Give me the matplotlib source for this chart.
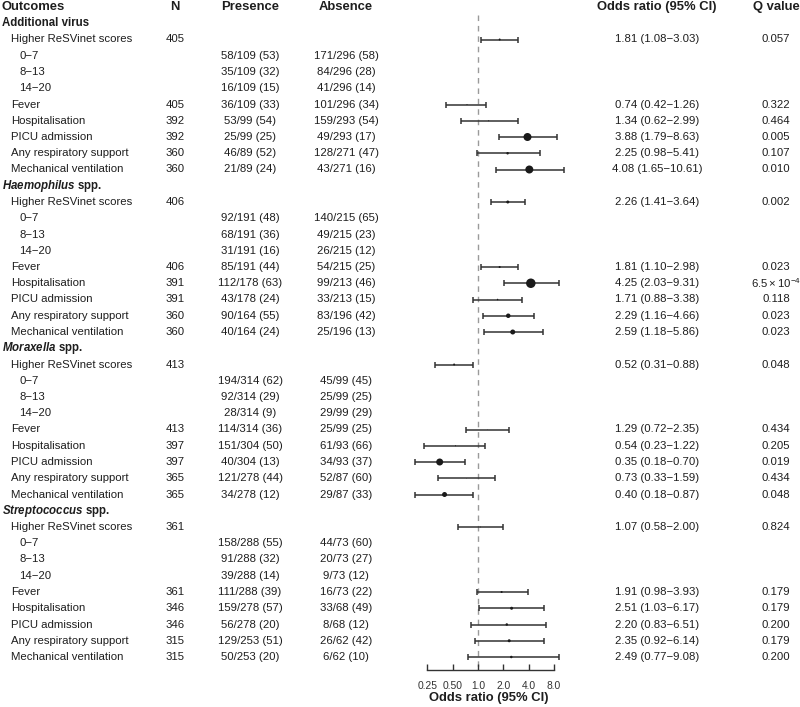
import numpy as np
import matplotlib.pyplot as plt

plt.rcParams['font.family'] = ['Liberation Sans', 'DejaVu Sans']
plt.rcParams['mathtext.fontset'] = 'custom'
plt.rcParams['mathtext.rm'] = 'Liberation Sans'
plt.rcParams['mathtext.it'] = 'Liberation Sans:italic:bold'
plt.rcParams['mathtext.bf'] = 'Liberation Sans:bold'

# ---- data ----
groups = ["Additional virus", "Haemophilus", "Moraxella", "Streptococcus"]
group_italic = [False, True, True, True]
outcomes = ["Higher ReSVinet scores", "Fever", "Hospitalisation", "PICU admission",
            "Any respiratory support", "Mechanical ventilation"]
score_bands = ["0−7", "8−13", "14−20"]

n_total = [
    [405, 405, 392, 392, 360, 360],
    [406, 406, 391, 391, 360, 360],
    [413, 413, 397, 397, 365, 365],
    [361, 361, 346, 346, 315, 315],
]

band_presence = [
    ["58/109 (53)", "35/109 (32)", "16/109 (15)"],
    ["92/191 (48)", "68/191 (36)", "31/191 (16)"],
    ["194/314 (62)", "92/314 (29)", "28/314 (9)"],
    ["158/288 (55)", "91/288 (32)", "39/288 (14)"],
]
band_absence = [
    ["171/296 (58)", "84/296 (28)", "41/296 (14)"],
    ["140/215 (65)", "49/215 (23)", "26/215 (12)"],
    ["45/99 (45)", "25/99 (25)", "29/99 (29)"],
    ["44/73 (60)", "20/73 (27)", "9/73 (12)"],
]
outcome_presence = [
    ["36/109 (33)", "53/99 (54)", "25/99 (25)", "46/89 (52)", "21/89 (24)"],
    ["85/191 (44)", "112/178 (63)", "43/178 (24)", "90/164 (55)", "40/164 (24)"],
    ["114/314 (36)", "151/304 (50)", "40/304 (13)", "121/278 (44)", "34/278 (12)"],
    ["111/288 (39)", "159/278 (57)", "56/278 (20)", "129/253 (51)", "50/253 (20)"],
]
outcome_absence = [
    ["101/296 (34)", "159/293 (54)", "49/293 (17)", "128/271 (47)", "43/271 (16)"],
    ["54/215 (25)", "99/213 (46)", "33/213 (15)", "83/196 (42)", "25/196 (13)"],
    ["25/99 (25)", "61/93 (66)", "34/93 (37)", "52/87 (60)", "29/87 (33)"],
    ["16/73 (22)", "33/68 (49)", "8/68 (12)", "26/62 (42)", "6/62 (10)"],
]

or_est = [
    [1.81, 0.74, 1.34, 3.88, 2.25, 4.08],
    [2.26, 1.81, 4.25, 1.71, 2.29, 2.59],
    [0.52, 1.29, 0.54, 0.35, 0.73, 0.40],
    [1.07, 1.91, 2.51, 2.20, 2.35, 2.49],
]
or_lo = [
    [1.08, 0.42, 0.62, 1.79, 0.98, 1.65],
    [1.41, 1.10, 2.03, 0.88, 1.16, 1.18],
    [0.31, 0.72, 0.23, 0.18, 0.33, 0.18],
    [0.58, 0.98, 1.03, 0.83, 0.92, 0.77],
]
or_hi = [
    [3.03, 1.26, 2.99, 8.63, 5.41, 10.61],
    [3.64, 2.98, 9.31, 3.38, 4.66, 5.86],
    [0.88, 2.35, 1.22, 0.70, 1.59, 0.87],
    [2.00, 3.93, 6.17, 6.51, 6.14, 9.08],
]
q_value = [
    [0.057, 0.322, 0.464, 0.005, 0.107, 0.010],
    [0.002, 0.023, 0.00065, 0.118, 0.023, 0.023],
    [0.048, 0.434, 0.205, 0.019, 0.434, 0.048],
    [0.824, 0.179, 0.179, 0.200, 0.179, 0.200],
]
# point weight (dot diameter as drawn)
point_weight = [
    [2.0, 1.0, 1.0, 8.0, 2.5, 8.0],
    [3.0, 2.0, 9.5, 1.5, 4.5, 5.0],
    [2.0, 0.5, 1.0, 7.0, 0.5, 5.0],
    [0.8, 2.0, 3.0, 2.5, 3.0, 2.5],
]

# ---- layout (pixels) ----
W, H = 800, 707
row_top, row_h = 7, 16.25
ylim = ((H - row_top) / row_h, -row_top / row_h)
x_out, x_ind1, x_ind2 = 2, 11, 19
x_n, x_pres, x_abs, x_or, x_q = 175, 250, 346, 657, 776
x_one, px_per_doubling = 478, 25.3
f_left, f_right = 400, 580
txt = '#1e1e1e'
body = 8.2

fig = plt.figure(figsize=(W / 100, H / 100), dpi=100)
ax = fig.add_axes([0, 0, 1, 1])
ax.set_xlim(0, W)
ax.set_ylim(*ylim)
ax.axis('off')

axf = fig.add_axes([f_left / W, 0, (f_right - f_left) / W, 1])
axf.set_xscale('log')
axf.set_xlim(2 ** ((f_left - x_one) / px_per_doubling),
             2 ** ((f_right - x_one) / px_per_doubling))
axf.set_ylim(*ylim)
axf.patch.set_alpha(0)

# header
hdr = dict(fontsize=9.4, fontweight='bold', color=txt, va='center')
ax.text(x_out, 0, "Outcomes", ha='left', **hdr)
ax.text(x_n, 0, "N", ha='center', **hdr)
ax.text(x_pres, 0, "Presence", ha='center', **hdr)
ax.text(x_abs, 0, "Absence", ha='center', **hdr)
ax.text(x_or, 0, "Odds ratio (95% CI)", ha='center', **hdr)
ax.text(x_q, 0, "Q value", ha='center', **hdr)

def fmt_q(q):
    if q < 0.001:
        m, e = f"{q:.1e}".split("e")
        return rf"${m}\times10^{{{int(e)}}}$"
    return f"{q:.3f}"

fy, fe, flo, fhi, fw = [], [], [], [], []
r = 1
for g, name in enumerate(groups):
    label = rf"$\it{{{name}}}$ spp." if group_italic[g] else name
    ax.text(x_out, r, label, ha='left', va='center', fontsize=8.3,
            fontweight='bold', color=txt)
    kw = dict(fontsize=body, color=txt, va='center')
    # rows: higher scores, bands, then outcomes
    out_rows = [r + 1] + [r + 5 + k for k in range(5)]
    for k in range(3):
        ax.text(x_ind2, r + 2 + k, score_bands[k], ha='left', **kw)
        ax.text(x_pres, r + 2 + k, band_presence[g][k], ha='center', **kw)
        ax.text(x_abs, r + 2 + k, band_absence[g][k], ha='center', **kw)
    for k in range(5):
        ax.text(x_pres, r + 5 + k, outcome_presence[g][k], ha='center', **kw)
        ax.text(x_abs, r + 5 + k, outcome_absence[g][k], ha='center', **kw)
    for k, yr in enumerate(out_rows):
        ax.text(x_ind1, yr, outcomes[k], ha='left', **kw)
        ax.text(x_n, yr, str(n_total[g][k]), ha='center', **kw)
        ax.text(x_or, yr, f"{or_est[g][k]:.2f} ({or_lo[g][k]:.2f}−{or_hi[g][k]:.2f})",
                ha='center', **kw)
        ax.text(x_q, yr, fmt_q(q_value[g][k]), ha='center', **kw)
        fy.append(yr)
        fe.append(or_est[g][k])
        flo.append(or_lo[g][k])
        fhi.append(or_hi[g][k])
        fw.append(point_weight[g][k])
    r += 10

fy, fe, flo, fhi, fw = map(np.array, (fy, fe, flo, fhi, fw))
axis_row = (670 - row_top) / row_h

axf.plot([1, 1], [0.5, axis_row], color='#9a9a9a', lw=1, dashes=(4, 3.5), zorder=1)
axf.errorbar(fe, fy, xerr=[fe - flo, fhi - fe], fmt='none', ecolor='#333333',
             elinewidth=1.1, capsize=2.3, capthick=1.1, zorder=2)
axf.scatter(fe, fy, s=(fw * 0.72) ** 2, color='#1a1a1a', zorder=3, linewidths=0)

for s in ['top', 'left', 'right']:
    axf.spines[s].set_visible(False)
axf.spines['bottom'].set_position(('data', axis_row))
axf.spines['bottom'].set_bounds(0.25, 8)
axf.spines['bottom'].set_linewidth(1)
axf.spines['bottom'].set_color('#333333')
ticks = [0.25, 0.5, 1, 2, 4, 8]
axf.set_xticks(ticks)
axf.set_xticklabels(["0.25", "0.50", "1.0", "2.0", "4.0", "8.0"])
axf.minorticks_off()
axf.tick_params(axis='x', direction='in', length=4.5, width=1, color='#333333',
                labelsize=7.4, labelcolor='#333333', pad=8)
axf.set_yticks([])

ax.text(489, (698 - row_top) / row_h, "Odds ratio (95% CI)", ha='center', va='center',
        fontsize=9.4, fontweight='bold', color=txt)

fig.savefig("out.png", dpi=100)
